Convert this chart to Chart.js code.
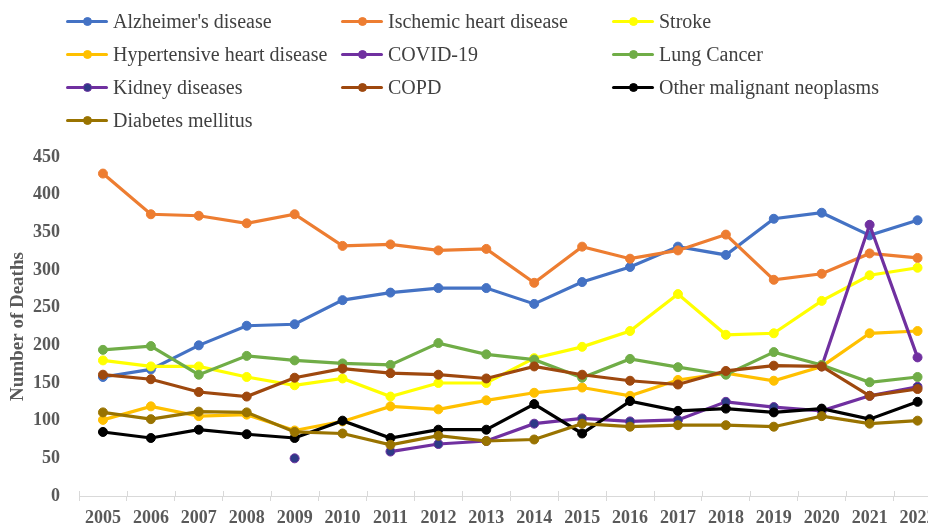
<!DOCTYPE html>
<html>
<head>
<meta charset="utf-8">
<script src="https://cdn.jsdelivr.net/npm/chart.js@4/dist/chart.umd.min.js"></script>
<style>
  html, body { margin: 0; padding: 0; background: #fff; overflow: hidden; }
  #wrap { position: relative; width: 928px; height: 526px; overflow: hidden; }
  #chart { position: absolute; left: 0; top: 0; }
  .item {
    position: absolute; display: flex; align-items: center; height: 24px;
    font: 20px "Liberation Serif", "Times New Roman", serif; color: #404040; white-space: nowrap;
  }
  .key { position: relative; width: 42px; height: 24px; margin-right: 5px; }
  .ln { position: absolute; left: 0; right: 0; top: 10.5px; height: 3px; border-radius: 1.5px; }
  .dot { position: absolute; left: 16.5px; top: 7.5px; width: 9px; height: 9px; border-radius: 50%; box-sizing: border-box; }
</style>
</head>
<body>
<div id="wrap">
  <canvas id="chart" width="947" height="526"></canvas>
  <div id="legend"></div>
</div>
<script>
  const years = ['2005', '2006', '2007', '2008', '2009', '2010', '2011', '2012', '2013',
                 '2014', '2015', '2016', '2017', '2018', '2019', '2020', '2021', '2022'];

  const alzheimers   = [158, 168, 200, 226, 228, 260, 270, 276, 276, 255, 284, 304, 331, 320, 368, 376, 346, 366];
  const ischemic     = [428, 374, 372, 362, 374, 332, 334, 326, 328, 283, 331, 315, 326, 347, 287, 295, 322, 316];
  const stroke       = [180, 172, 172, 158, 147, 156, 132, 150, 150, 183, 198, 219, 268, 214, 216, 259, 293, 303];
  const hypertensive = [101, 119, 106, 108, 87, 99, 119, 115, 127, 137, 144, 133, 154, 163, 153, 172, 216, 219];
  const covid        = [null, null, null, null, null, null, null, null, null, null, null, null, null, null, null, 172, 360, 184];
  const lungCancer   = [194, 199, 161, 186, 180, 176, 174, 203, 188, 181, 157, 182, 171, 161, 191, 174, 151, 158];
  const kidney       = [null, null, null, null, 50, null, 59, 69, 73, 96, 103, 99, 101, 125, 118, 113, 133, 145];
  const copd         = [161, 155, 138, 132, 157, 169, 163, 161, 156, 172, 161, 153, 148, 166, 173, 172, 133, 142];
  const otherCancer  = [85, 77, 88, 82, 77, 100, 77, 88, 88, 122, 83, 126, 113, 116, 111, 116, 102, 125];
  const diabetes     = [111, 102, 112, 111, 85, 83, 68, 80, 73, 75, 96, 92, 94, 94, 92, 106, 96, 100];

  const yTicks = { min: 0, max: 450, step: 50 };

  function series(label, data, color, dotColor) {
    return {
      label: label,
      data: data,
      borderColor: color,
      backgroundColor: color,
      pointBackgroundColor: dotColor || color,
      pointBorderColor: color,
      borderWidth: 3.2,
      pointRadius: 4.5,
      pointBorderWidth: 1,
      tension: 0,
      spanGaps: false
    };
  }

  const datasets = [
    series("Alzheimer's disease", alzheimers, '#4472C4'),
    series('Ischemic heart disease', ischemic, '#ED7D31'),
    series('Stroke', stroke, '#FFFF00'),
    series('Hypertensive heart disease', hypertensive, '#FFC000'),
    series('COVID-19', covid, '#7030A0'),
    series('Lung Cancer', lungCancer, '#70AD47'),
    series('Kidney diseases', kidney, '#7030A0', '#2E3A87'),
    series('COPD', copd, '#9E480E'),
    series('Other malignant neoplasms', otherCancer, '#000000'),
    series('Diabetes mellitus', diabetes, '#997300')
  ];
  // later series on top, like the original
  datasets.forEach((d, i) => { d.order = datasets.length - i; });

  const tickFont = { family: '"Liberation Serif", "Times New Roman", serif', size: 18, weight: 'bold', lineHeight: 1 };

  // short tick marks that cross the x axis line upwards too
  const upTicks = {
    id: 'upTicks',
    afterDraw(chart) {
      const x = chart.scales.x;
      const c = chart.ctx;
      c.save();
      c.strokeStyle = '#D9D9D9';
      c.lineWidth = 1;
      c.beginPath();
      for (let i = 0; i <= x.ticks.length; i++) {
        const px = Math.round(x.left + i * (x.width / x.ticks.length)) + 0.5;
        c.moveTo(px, x.top - 5);
        c.lineTo(px, x.top);
      }
      c.stroke();
      c.restore();
    }
  };

  const chart = new Chart(document.getElementById('chart'), {
    type: 'line',
    data: { labels: years, datasets: datasets },
    plugins: [upTicks],
    options: {
      responsive: false,
      animation: false,
      layout: { padding: { top: 157, left: 0, right: 0, bottom: 0 } },
      plugins: { legend: { display: false }, tooltip: { enabled: false } },
      scales: {
        x: {
          type: 'category',
          offset: true,
          grid: { display: true, drawOnChartArea: false, drawTicks: true, tickLength: 5, color: '#D9D9D9', offset: true },
          border: { display: true, color: '#D9D9D9', width: 1 },
          ticks: { font: tickFont, color: '#595959', padding: 8, maxRotation: 0, autoSkip: false },
          afterFit: function(scale) { scale.height = 30; }
        },
        y: {
          min: yTicks.min,
          max: yTicks.max,
          grid: { display: false },
          border: { display: false },
          ticks: { stepSize: yTicks.step, font: tickFont, color: '#595959', padding: 11 },
          title: {
            display: true,
            text: 'Number of Deaths',
            color: '#595959',
            font: { family: '"Liberation Serif", "Times New Roman", serif', size: 19, weight: 'bold' },
            padding: { top: 7, bottom: 0 }
          },
          afterFit: function(scale) { scale.width = 79; }
        }
      }
    }
  });

  // legend in three columns, built from the datasets
  const legend = document.getElementById('legend');
  const colX = [66, 341, 612];
  const rowY = [21.5, 54, 87.5, 120.5];
  chart.data.datasets.forEach((d, i) => {
    const item = document.createElement('div');
    item.className = 'item';
    item.style.left = colX[i % 3] + 'px';
    item.style.top = (rowY[Math.floor(i / 3)] - 12) + 'px';
    const key = document.createElement('span');
    key.className = 'key';
    const ln = document.createElement('i');
    ln.className = 'ln';
    ln.style.background = d.borderColor;
    const dot = document.createElement('i');
    dot.className = 'dot';
    dot.style.background = d.pointBackgroundColor;
    dot.style.border = '1px solid ' + d.borderColor;
    key.appendChild(ln);
    key.appendChild(dot);
    const txt = document.createElement('span');
    txt.textContent = d.label;
    item.appendChild(key);
    item.appendChild(txt);
    legend.appendChild(item);
  });
</script>
</body>
</html>
